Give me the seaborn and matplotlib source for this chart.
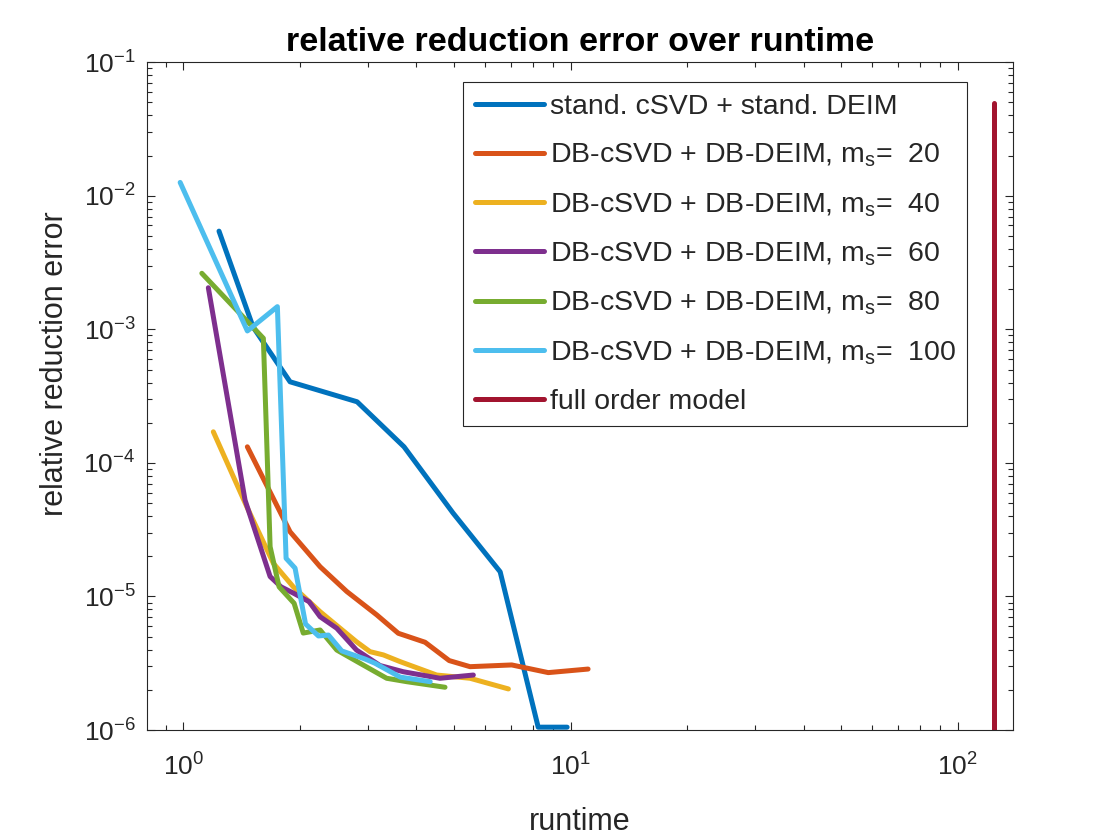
import numpy as np
import pandas as pd
import matplotlib
matplotlib.use("Agg")
import matplotlib.pyplot as plt
import seaborn as sns
from matplotlib.ticker import LogLocator, NullFormatter

# ---------------- data ----------------
labels = [
    "stand. cSVD + stand. DEIM",
    r"DB-cSVD + DB-DEIM, $\mathregular{m_s}$=  20",
    r"DB-cSVD + DB-DEIM, $\mathregular{m_s}$=  40",
    r"DB-cSVD + DB-DEIM, $\mathregular{m_s}$=  60",
    r"DB-cSVD + DB-DEIM, $\mathregular{m_s}$=  80",
    r"DB-cSVD + DB-DEIM, $\mathregular{m_s}$=  100",
    "full order model",
]
colors = ["#0072BD", "#D95319", "#EDB120", "#7E2F8E", "#77AC30", "#4DBEEE", "#A2142F"]

std_t = [1.236, 1.514, 1.886, 2.81, 3.715, 4.97, 6.58, 8.25, 9.80]
std_e = [5.44e-3, 1.04e-3, 4.05e-4, 2.87e-4, 1.32e-4, 4.22e-5, 1.53e-5, 1.05e-6, 1.05e-6]

m20_t = [1.463, 1.886, 2.255, 2.642, 3.16, 3.59, 4.21, 4.86, 5.50, 7.05, 8.76, 11.1]
m20_e = [1.32e-4, 3.05e-5, 1.67e-5, 1.09e-5, 7.27e-6, 5.30e-6, 4.54e-6, 3.31e-6, 2.98e-6, 3.07e-6, 2.69e-6, 2.86e-6]

m40_t = [1.195, 1.458, 1.708, 1.923, 2.255, 2.54, 2.80, 3.035, 3.285, 3.63, 4.51, 5.50, 6.91]
m40_e = [1.71e-4, 4.70e-5, 1.77e-5, 1.18e-5, 7.69e-6, 5.78e-6, 4.58e-6, 3.86e-6, 3.65e-6, 3.25e-6, 2.58e-6, 2.44e-6, 2.03e-6]

m60_t = [1.16, 1.443, 1.675, 1.788, 1.923, 2.112, 2.255, 2.49, 2.80, 3.22, 3.70, 4.60, 5.61]
m60_e = [2.05e-3, 5.27e-5, 1.41e-5, 1.18e-5, 1.06e-5, 9.14e-6, 7.05e-6, 5.78e-6, 3.97e-6, 3.04e-6, 2.73e-6, 2.44e-6, 2.58e-6]

m80_t = [1.116, 1.609, 1.635, 1.675, 1.767, 1.932, 2.04, 2.255, 2.49, 2.86, 3.35, 3.776, 4.74]
m80_e = [2.63e-3, 8.58e-4, 2.09e-4, 2.36e-5, 1.18e-5, 8.89e-6, 5.32e-6, 5.61e-6, 3.97e-6, 3.16e-6, 2.44e-6, 2.30e-6, 2.09e-6]

m100_t = [0.981, 1.463, 1.749, 1.842, 1.943, 2.068, 2.233, 2.37, 2.565, 2.946, 3.127, 3.63, 4.34]
m100_e = [1.26e-2, 9.73e-4, 1.48e-3, 1.93e-5, 1.63e-5, 6.22e-6, 5.06e-6, 5.14e-6, 3.91e-6, 3.40e-6, 3.16e-6, 2.49e-6, 2.30e-6]

full_t = [124.4, 124.4]
full_e = [1.0e-6, 4.96e-2]

series_t = [std_t, m20_t, m40_t, m60_t, m80_t, m100_t, full_t]
series_e = [std_e, m20_e, m40_e, m60_e, m80_e, m100_e, full_e]

# ---------------- style ----------------
sns.set_theme(style="white")
plt.rcParams['font.family'] = ['Liberation Sans', 'DejaVu Sans']
plt.rcParams['mathtext.fontset'] = 'custom'
plt.rcParams['mathtext.rm'] = 'Liberation Sans'
plt.rcParams['mathtext.it'] = 'Liberation Sans:italic'
plt.rcParams['mathtext.bf'] = 'Liberation Sans:bold'
plt.rcParams['axes.unicode_minus'] = False

W, H = 1120, 840
fig = plt.figure(figsize=(W / 100, H / 100), dpi=100)
L, R, T, B = 146.7, 1013.3, 62.3, 730.0
ax = fig.add_axes([L / W, 1 - B / H, (R - L) / W, (B - T) / H])
ax.set_xscale('log')
ax.set_yscale('log')

frames = []
for lab, t, e in zip(labels, series_t, series_e):
    frames.append(pd.DataFrame({"runtime": t, "error": e, "method": lab}))
df = pd.concat(frames, ignore_index=True)

sns.lineplot(data=df, x="runtime", y="error", hue="method", hue_order=labels,
             palette=colors, sort=False, estimator=None, units="method",
             linewidth=3.6, ax=ax)

ax.set_xlim(0.804, 139.2)
ax.set_ylim(1e-6, 1e-1)

dark = "#262626"
for s in ax.spines.values():
    s.set_visible(True)
    s.set_color(dark)
    s.set_linewidth(0.8)

ax.xaxis.set_major_locator(LogLocator(base=10, numticks=20))
ax.yaxis.set_major_locator(LogLocator(base=10, numticks=20))
ax.xaxis.set_minor_locator(LogLocator(base=10, subs=np.arange(2, 10), numticks=50))
ax.yaxis.set_minor_locator(LogLocator(base=10, subs=np.arange(2, 10), numticks=50))
ax.xaxis.set_minor_formatter(NullFormatter())
ax.yaxis.set_minor_formatter(NullFormatter())

ax.tick_params(which='both', direction='in', top=True, right=True, bottom=True, left=True,
               color=dark, width=0.8, labelcolor=dark, labelsize=19)
ax.tick_params(which='major', length=6)
ax.tick_params(which='minor', length=3.5)
ax.tick_params(axis='x', which='major', pad=17)
ax.tick_params(axis='y', which='major', pad=8)

ax.set_xlabel("runtime", fontsize=22, color=dark, va='center', ha='center')
ax.set_ylabel("relative reduction error", fontsize=22, color=dark, va='center', ha='center')
ax.xaxis.set_label_coords(0.5, -(822 - B) / (B - T))
ax.yaxis.set_label_coords((55 - L) / (R - L), 1 - (364 - T) / (B - T))
ax.set_title("relative reduction error over runtime", fontsize=24.5, fontweight='bold',
             color='black', pad=8)

handles, labs = ax.get_legend_handles_labels()
for h in handles:
    h.set_linewidth(3.6)
leg = ax.legend(handles, labs, loc='upper right',
                bbox_to_anchor=(967.3 / W, 1 - 82.3 / H), bbox_transform=fig.transFigure,
                borderaxespad=0, frameon=True, fancybox=False, framealpha=1,
                edgecolor=dark, fontsize=20.5, handlelength=2.42, handletextpad=0.21,
                labelspacing=0.77, borderpad=0.4)
leg.get_frame().set_linewidth(0.8)

fig.savefig("out.png", dpi=100)
